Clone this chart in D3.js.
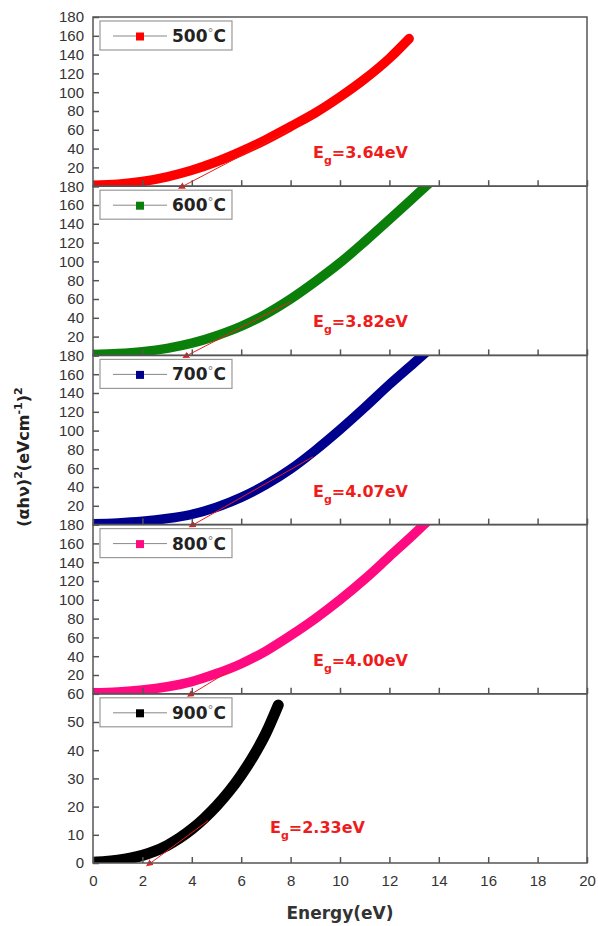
<!DOCTYPE html>
<html>
<head>
<meta charset="utf-8">
<script src="https://cdn.jsdelivr.net/npm/d3@7"></script>
<style>
  body { margin: 0; background: #fff; }
</style>
</head>
<body>
<div id="vis"></div>
<script>
// Datos -----------------------------------------------------------------------------------
const temperaturas = ["500°C", "600°C", "700°C", "800°C", "900°C"];
const colores = ["#ff0000", "#0a7f0a", "#00008f", "#ff0a80", "#000000"];
const gaps = ["3.64", "3.82", "4.07", "4.00", "2.33"];

const energia500 = [0, 1, 2, 3, 4, 5, 6, 7, 8, 9, 10, 11, 12, 12.8];
const valor500 = [1, 2, 5, 10, 17, 26, 37, 49.5, 63.5, 78, 95, 114, 136, 157];
const energia600 = [0, 1, 2, 3, 4, 5, 6, 7, 8, 9, 10, 11, 12, 13, 13.6];
const valor600 = [1, 2, 4, 7.5, 13, 21, 31, 44, 60, 78.5, 98.5, 121, 144.5, 168.5, 183];
const energia700 = [0, 1, 2, 3, 4, 5, 6, 7, 8, 9, 10, 11, 12, 13, 13.6];
const valor700 = [1, 1.8, 3.5, 6.5, 11, 18.5, 29, 42.5, 59, 79, 101, 124.5, 149, 172, 186];
const energia800 = [0, 1, 2, 3, 4, 5, 6, 7, 8, 9, 10, 11, 12, 13, 13.6];
const valor800 = [1, 2, 4, 7.5, 13, 21.5, 32, 45.5, 62, 80, 100, 122, 146, 170, 185];
const energia900 = [0, 0.5, 1, 1.5, 2, 2.5, 3, 3.5, 4, 4.5, 5, 5.5, 6, 6.5, 7, 7.5];
const valor900 = [0.3, 0.5, 1, 1.7, 2.7, 4.2, 6.2, 8.8, 12, 15.8, 20.2, 25.3, 31.2, 38, 46, 56];

// extremo de la recta tangente (energía, valor)
const tangenteE = [8, 8, 8.9, 5.5, 4.66];
const tangenteV = [60, 57, 72, 24, 15];

const ticksX = [0, 2, 4, 6, 8, 10, 12, 14, 16, 18, 20];
const ticksY = [20, 40, 60, 80, 100, 120, 140, 160, 180];
const ticksY900 = [0, 10, 20, 30, 40, 50, 60];

const series = [
    [energia500, valor500], [energia600, valor600], [energia700, valor700],
    [energia800, valor800], [energia900, valor900]
];

// Dimensiones --------------------------------------------------------------------------
const WIDTH = 598;
const HEIGHT = 926;
const IZQ = 93;
const DER = 587;
const ARRIBA = 17;
const ALTO_PANEL = 169.2;

const SVG = d3.select("#vis").append("svg")
    .attr("width", WIDTH)
    .attr("height", HEIGHT);

const defs = SVG.append("defs");
defs.append("marker")
    .attr("id", "flecha")
    .attr("viewBox", "0 0 10 10")
    .attr("refX", 2)
    .attr("refY", 5)
    .attr("markerWidth", 7)
    .attr("markerHeight", 7)
    .attr("markerUnits", "userSpaceOnUse")
    .attr("orient", "auto-start-reverse")
    .append("path")
    .attr("d", "M0,0 L10,5 L0,10 Z")
    .attr("fill", "#ee1c1c");

const escalaX = d3.scaleLinear().domain([0, 20]).range([IZQ, DER]);

temperaturas.forEach((temp, i) => {
    const top = ARRIBA + i * ALTO_PANEL;
    const bottom = top + ALTO_PANEL;
    const maxY = i === 4 ? 60 : 180;
    const escalaY = d3.scaleLinear().domain([0, maxY]).range([bottom, top]);

    const panel = SVG.append("g");

    defs.append("clipPath")
        .attr("id", "clip" + i)
        .append("rect")
        .attr("x", IZQ)
        .attr("y", top)
        .attr("width", DER - IZQ)
        .attr("height", ALTO_PANEL);

    // curva de datos (marcadores densos -> trazo grueso)
    const [xs, ys] = series[i];
    const puntos = xs.map((e, k) => [e, ys[k]]);
    const linea = d3.line()
        .x(d => escalaX(d[0]))
        .y(d => escalaY(d[1]))
        .curve(d3.curveMonotoneX);

    panel.append("path")
        .datum(puntos)
        .attr("clip-path", `url(#clip${i})`)
        .attr("d", linea)
        .attr("fill", "none")
        .attr("stroke", colores[i])
        .attr("stroke-width", i === 4 ? 11 : 9.5)
        .attr("stroke-linecap", "round");

    // recta tangente
    panel.append("line")
        .attr("x1", escalaX(+gaps[i]))
        .attr("y1", escalaY(0))
        .attr("x2", escalaX(tangenteE[i]))
        .attr("y2", escalaY(tangenteV[i]))
        .attr("stroke", "#ee1c1c")
        .attr("stroke-width", 1)
        .attr("marker-start", "url(#flecha)");

    // marco
    panel.append("rect")
        .attr("x", IZQ)
        .attr("y", top)
        .attr("width", DER - IZQ)
        .attr("height", ALTO_PANEL)
        .attr("fill", "none")
        .attr("stroke", "#555")
        .attr("stroke-width", 1.5);

    // eje y
    const ejeY = panel.append("g")
        .attr("transform", `translate(${IZQ},0)`)
        .call(d3.axisLeft(escalaY)
            .tickValues(i === 4 ? ticksY900 : [0].concat(ticksY))
            .tickSizeInner(-6)
            .tickSizeOuter(0)
            .tickPadding(9)
            .tickFormat(d => (i < 4 && d === 0) ? "" : d));
    ejeY.select(".domain").remove();
    ejeY.selectAll("line").attr("stroke", "#555").attr("stroke-width", 1.5);
    ejeY.selectAll("text")
        .attr("font-family", "Liberation Sans, Arial")
        .attr("font-size", "15px")
        .attr("fill", "#333");

    // eje x
    const ejeX = panel.append("g")
        .attr("transform", `translate(0,${bottom})`)
        .call(d3.axisBottom(escalaX)
            .tickValues(ticksX)
            .tickSizeInner(-6)
            .tickSizeOuter(0)
            .tickPadding(12)
            .tickFormat(d => i === 4 ? d : ""));
    ejeX.select(".domain").remove();
    ejeX.selectAll("line").attr("stroke", "#555").attr("stroke-width", 1.5);
    ejeX.selectAll("text")
        .attr("font-family", "Liberation Sans, Arial")
        .attr("font-size", "15px")
        .attr("fill", "#333");

    // leyenda
    const leyenda = panel.append("g")
        .attr("transform", `translate(100,${top + 4})`);
    const cajaLeyenda = leyenda.append("rect")
        .attr("x", 0)
        .attr("y", 0)
        .attr("height", 29)
        .attr("fill", "#fff")
        .attr("stroke", "#999")
        .attr("stroke-width", 1.2);
    leyenda.append("line")
        .attr("x1", 13).attr("x2", 67)
        .attr("y1", 15).attr("y2", 15)
        .attr("stroke", "#888")
        .attr("stroke-width", 1);
    leyenda.append("rect")
        .attr("x", 36).attr("y", 11.5)
        .attr("width", 8).attr("height", 8)
        .attr("fill", colores[i]);
    const textoLeyenda = leyenda.append("text")
        .attr("x", 72)
        .attr("y", 21)
        .attr("font-family", "DejaVu Sans")
        .attr("font-weight", "bold")
        .attr("font-size", "17px")
        .attr("fill", "#222");
    textoLeyenda.append("tspan").text(temp.slice(0, 3));
    textoLeyenda.append("tspan")
        .attr("font-weight", "normal")
        .attr("fill", "#888")
        .attr("font-size", "12px")
        .attr("dy", -5)
        .text("°");
    textoLeyenda.append("tspan").attr("dy", 5).text("C");
    const anchoTexto = textoLeyenda.node().getComputedTextLength();
    cajaLeyenda.attr("width", 72 + anchoTexto + 6);

    // etiqueta Eg
    const eg = panel.append("text")
        .attr("x", i === 4 ? 270 : 313)
        .attr("y", bottom - (i === 4 ? 30 : 28))
        .attr("font-family", "DejaVu Sans")
        .attr("font-weight", "bold")
        .attr("font-size", "16px")
        .attr("fill", "#ee1c1c");
    eg.append("tspan").text("E");
    eg.append("tspan").attr("font-size", "11px").attr("dy", 6).text("g");
    eg.append("tspan").attr("dy", -6).text(`=${gaps[i]}eV`);
});

// títulos de ejes -------------------------------------------------------------------------
SVG.append("text")
    .attr("x", 340)
    .attr("y", 919)
    .attr("text-anchor", "middle")
    .attr("font-family", "DejaVu Sans")
    .attr("font-weight", "bold")
    .attr("font-size", "17px")
    .attr("fill", "#333")
    .text("Energy(eV)");

const tituloY = SVG.append("text")
    .attr("transform", "translate(29,457) rotate(-90)")
    .attr("text-anchor", "middle")
    .attr("font-family", "DejaVu Sans")
    .attr("font-weight", "bold")
    .attr("font-size", "16px")
    .attr("fill", "#222");
tituloY.append("tspan").text("(αhν)");
tituloY.append("tspan").attr("font-size", "11px").attr("dy", -7).text("2");
tituloY.append("tspan").attr("dy", 7).text("(eVcm");
tituloY.append("tspan").attr("font-size", "11px").attr("dy", -7).text("-1");
tituloY.append("tspan").attr("dy", 7).text(")");
tituloY.append("tspan").attr("font-size", "11px").attr("dy", -7).text("2");
</script>
</body>
</html>
